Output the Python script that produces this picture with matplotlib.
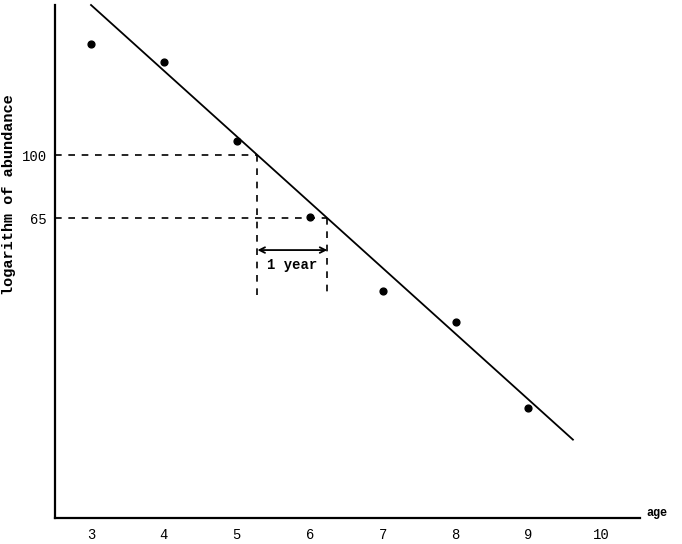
import numpy as np
import matplotlib
matplotlib.use("Agg")
import matplotlib.pyplot as plt

# data
ages = [3, 4, 5, 6, 7, 8, 9]
abundance = [213, 189, 110, 65.5, 39.5, 32, 17.8]
line_x = [3.0, 9.61]
line_y = [279, 14.3]
xticks = [3, 4, 5, 6, 7, 8, 9, 10]
yticks = [100, 65]
ytick_labels = ["100", "65"]

font = ["Liberation Mono", "DejaVu Sans Mono"]

fig = plt.figure(figsize=(6.82, 5.44), dpi=100)
ax = fig.add_axes([55/682, 1-518/544, (640-55)/682, (518-5)/544])
ax.set_yscale("log")
ax.set_xlim(2.506, 10.53)
ax.set_ylim(8.37, 279)

# fitted line
ax.plot(line_x, line_y, color="black", lw=1.3, clip_on=False)
ax.scatter(ages, abundance, s=24, color="black", zorder=3)

# intersections of line with 100 and 65
lx = np.log10(line_y)
def x_at(v):
    return line_x[0] + (np.log10(v) - lx[0]) / (lx[1] - lx[0]) * (line_x[1] - line_x[0])
x100 = x_at(100)
x65 = x_at(65)
ybot = 10 ** (np.log10(100) - (297 - 155) / 337)
ax.plot([ax.get_xlim()[0], x100], [100, 100], ls=(0, (4, 4)), color="black", lw=1.2)
ax.plot([ax.get_xlim()[0], x65], [65, 65], ls=(0, (4, 4)), color="black", lw=1.2)
ax.plot([x100, x100], [100, ybot], ls=(0, (4, 4)), color="black", lw=1.2)
ax.plot([x65, x65], [65, ybot], ls=(0, (4, 4)), color="black", lw=1.2)
yarr = 10 ** (np.log10(100) - (250 - 155) / 337)
ax.annotate("", xy=(x65, yarr), xytext=(x100, yarr),
            arrowprops=dict(arrowstyle="<->", color="black", lw=1.3,
                            shrinkA=0, shrinkB=0, mutation_scale=10))
ytxt = 10 ** (np.log10(100) - (265 - 155) / 337)
ax.text((x100 + x65) / 2, ytxt, "1 year", ha="center", va="center",
        fontsize=10, fontweight="bold", family=font)

for s in ["top", "right"]:
    ax.spines[s].set_visible(False)
for s in ["left", "bottom"]:
    ax.spines[s].set_linewidth(1.6)

ax.set_xticks(xticks)
ax.set_xticklabels([str(t) for t in xticks], family=font, fontsize=10)
ax.set_yticks(yticks)
ax.set_yticklabels(ytick_labels, family=font, fontsize=10)
ax.yaxis.set_minor_locator(matplotlib.ticker.NullLocator())
ax.tick_params(axis="y", length=0, pad=6)
ax.tick_params(axis="x", length=0, pad=7)

ax.set_ylabel("logarithm of abundance", family=font, fontsize=11, fontweight="bold")
ax.yaxis.set_label_coords(-0.066, 0.63)
fig.text(657/682, 1-513/544, "age", family=font, fontsize=8.5, fontweight="bold",
         ha="center", va="center")

fig.savefig("out.png", dpi=100)
